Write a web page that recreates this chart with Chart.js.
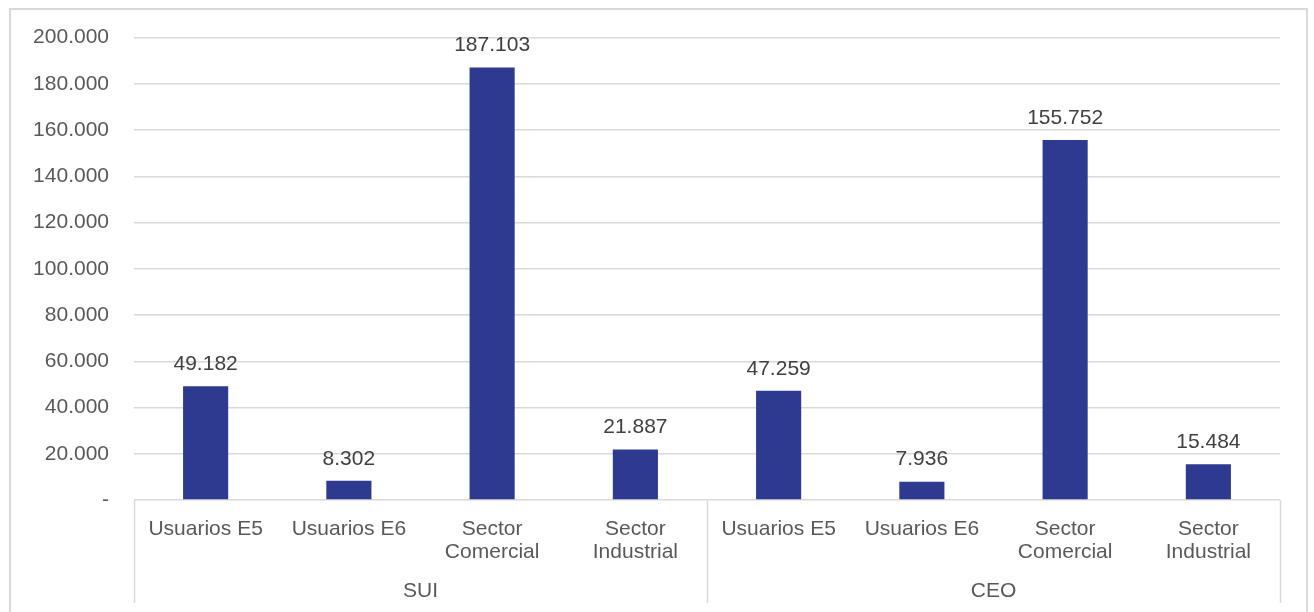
<!DOCTYPE html>
<html>
<head>
<meta charset="utf-8">
<script src="https://cdn.jsdelivr.net/npm/chart.js@4/dist/chart.umd.min.js"></script>
<style>
  html, body { margin: 0; padding: 0; background: #ffffff; overflow: hidden; }
  #frame {
    position: absolute; left: 9px; top: 8px; width: 1299px; height: 640px;
    border: 2px solid #d9d9d9; box-sizing: border-box;
  }
  #wrap { position: absolute; left: 0; top: 0; width: 1314px; height: 612px; }
</style>
</head>
<body>
<div id="frame"></div>
<div id="wrap"><canvas id="chart" width="1314" height="612"></canvas></div>
<script>
// Categories (two-level axis: sub-category + source group)
const categories = [
  ['Usuarios E5'], ['Usuarios E6'], ['Sector', 'Comercial'], ['Sector', 'Industrial'],
  ['Usuarios E5'], ['Usuarios E6'], ['Sector', 'Comercial'], ['Sector', 'Industrial']
];
const groups = ['SUI', 'CEO'];
const groupSizes = [4, 4];
const values = [49182, 8302, 187103, 21887, 47259, 7936, 155752, 15484];
const yTicks = [0, 20000, 40000, 60000, 80000, 100000, 120000, 140000, 160000, 180000, 200000];

const FONT = '"Liberation Sans", Arial, sans-serif';
const TEXT = '#595959';
const GRID = '#d9d9d9';
const BAR = '#2e3a8f';

function fmt(v) {
  if (v === 0) return '-';
  return Math.round(v).toString().replace(/\B(?=(\d{3})+(?!\d))/g, '.');
}

// Value labels above bars, group labels and separators under the axis
const decorations = {
  id: 'decorations',
  afterDatasetsDraw(chart) {
    const ctx = chart.ctx;
    const meta = chart.getDatasetMeta(0);
    ctx.save();
    ctx.font = '21px ' + FONT;
    ctx.fillStyle = '#404040';
    ctx.textAlign = 'center';
    ctx.textBaseline = 'middle';
    meta.data.forEach((bar, i) => {
      ctx.fillText(fmt(values[i]), bar.x, bar.y - 22);
    });

    const xs = chart.scales.x;
    const area = chart.chartArea;
    const step = xs.getPixelForValue(1) - xs.getPixelForValue(0);
    const yTop = area.bottom;
    const yBot = 603;
    ctx.strokeStyle = GRID;
    ctx.lineWidth = 1.5;
    let idx = 0;
    const edges = [xs.getPixelForValue(0) - step / 2];
    groupSizes.forEach(n => { idx += n; edges.push(xs.getPixelForValue(idx - 1) + step / 2); });
    edges.forEach(x => {
      ctx.beginPath();
      ctx.moveTo(Math.round(x) + 0.5, yTop);
      ctx.lineTo(Math.round(x) + 0.5, yBot);
      ctx.stroke();
    });
    ctx.fillStyle = TEXT;
    groups.forEach((g, k) => {
      ctx.fillText(g, (edges[k] + edges[k + 1]) / 2, 591);
    });
    ctx.restore();
  }
};

new Chart(document.getElementById('chart'), {
  type: 'bar',
  data: {
    labels: categories,
    datasets: [{
      data: values,
      backgroundColor: BAR,
      barPercentage: 0.315,
      categoryPercentage: 1.0
    }]
  },
  options: {
    responsive: false,
    animation: false,
    layout: { padding: { left: 0, right: 34, top: 37, bottom: 0 } },
    plugins: { legend: { display: false }, tooltip: { enabled: false } },
    scales: {
      x: {
        grid: { display: false },
        border: { display: false },
        ticks: {
          color: TEXT,
          font: { family: FONT, size: 21, lineHeight: 1.12 },
          padding: 9,
          maxRotation: 0,
          autoSkip: false
        },
        afterFit(scale) { scale.height = 112; }
      },
      y: {
        min: 0,
        max: 200000,
        afterBuildTicks(scale) { scale.ticks = yTicks.map(v => ({ value: v })); },
        grid: { color: GRID, lineWidth: 1.5, drawTicks: false },
        border: { display: false },
        ticks: {
          color: TEXT,
          font: { family: FONT, size: 21 },
          padding: 25,
          callback: v => fmt(v)
        },
        afterFit(scale) { scale.width = 134; }
      }
    }
  },
  plugins: [decorations]
});
</script>
</body>
</html>
